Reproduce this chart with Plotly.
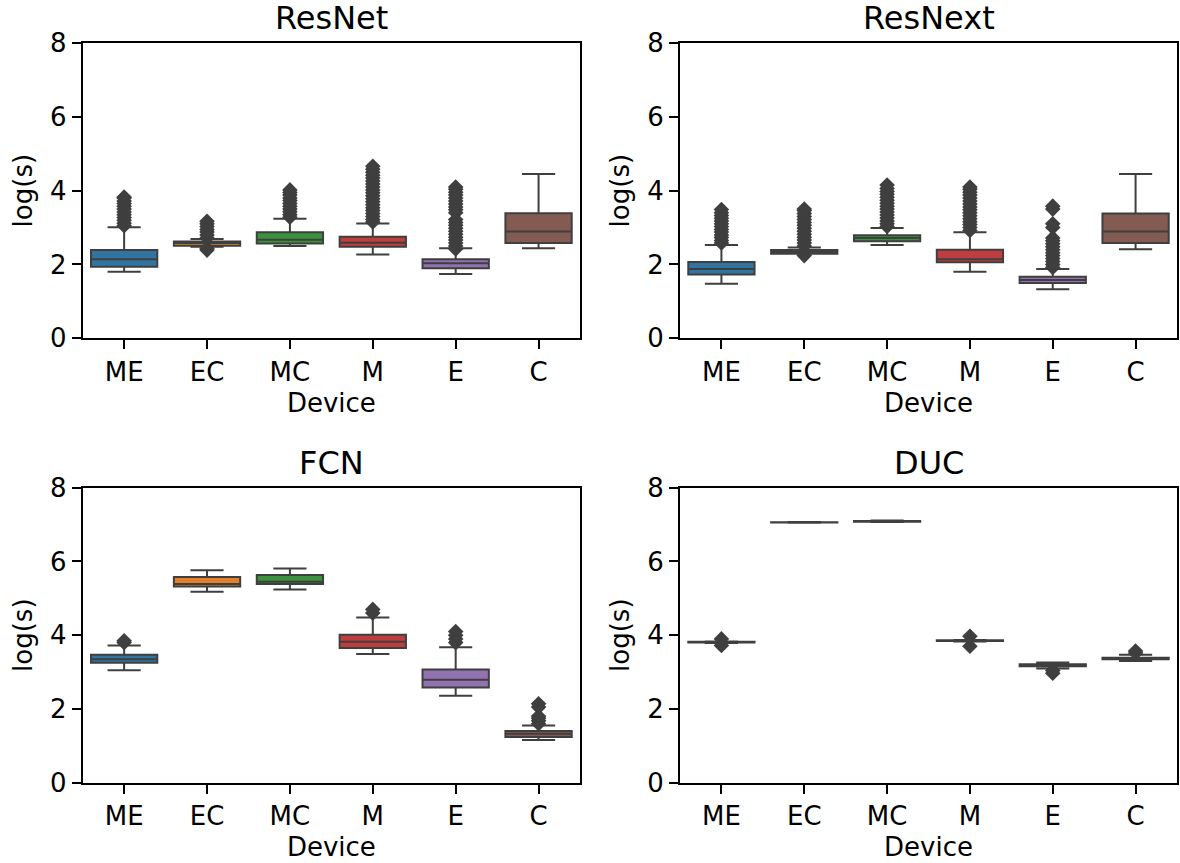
import plotly.graph_objects as go

# ---------------- data ----------------
devices = ["ME", "EC", "MC", "M", "E", "C"]
panel_titles = ["ResNet", "ResNext", "FCN", "DUC"]
y_ticks = [0, 2, 4, 6, 8]
colors = ["#3274a1", "#e1812c", "#3a923a", "#c03d3e", "#9372b2", "#845b53"]

# ResNet
resnet_low = [1.80, 2.48, 2.50, 2.27, 1.74, 2.44]
resnet_q1 = [1.94, 2.51, 2.57, 2.48, 1.90, 2.58]
resnet_med = [2.14, 2.58, 2.67, 2.59, 2.03, 2.89]
resnet_q3 = [2.39, 2.62, 2.87, 2.75, 2.14, 3.39]
resnet_high = [3.01, 2.69, 3.24, 3.11, 2.44, 4.45]
resnet_out = [
    [3.05, 3.12, 3.20, 3.27, 3.35, 3.42, 3.50, 3.58, 3.65, 3.72, 3.80, 3.83],
    [2.39, 2.43, 2.72, 2.80, 2.88, 2.95, 3.03, 3.10, 3.17],
    [3.28, 3.35, 3.43, 3.50, 3.58, 3.65, 3.73, 3.80, 3.88, 3.95, 4.02],
    [3.15, 3.22, 3.30, 3.38, 3.46, 3.54, 3.62, 3.70, 3.78, 3.86, 3.94, 4.02,
     4.10, 4.18, 4.26, 4.34, 4.42, 4.50, 4.58, 4.66],
    [2.42, 2.50, 2.58, 2.66, 2.74, 2.82, 2.90, 2.98, 3.06, 3.14, 3.22, 3.40,
     3.48, 3.56, 3.64, 3.72, 3.80, 3.88, 3.96, 4.04, 4.10],
    [],
]

# ResNext
resnext_low = [1.48, 2.29, 2.53, 1.80, 1.33, 2.41]
resnext_q1 = [1.73, 2.29, 2.63, 2.06, 1.50, 2.58]
resnext_med = [1.88, 2.34, 2.72, 2.14, 1.58, 2.89]
resnext_q3 = [2.07, 2.39, 2.79, 2.40, 1.67, 3.38]
resnext_high = [2.53, 2.46, 2.99, 2.87, 1.88, 4.45]
resnext_out = [
    [2.58, 2.65, 2.73, 2.80, 2.88, 2.95, 3.03, 3.10, 3.18, 3.25, 3.33, 3.40, 3.49],
    [2.24, 2.50, 2.58, 2.66, 2.74, 2.82, 2.90, 2.98, 3.06, 3.14, 3.22, 3.30,
     3.38, 3.46, 3.50],
    [3.03, 3.10, 3.18, 3.26, 3.34, 3.42, 3.50, 3.58, 3.66, 3.74, 3.82, 3.90,
     3.98, 4.06, 4.15],
    [2.92, 3.00, 3.08, 3.16, 3.24, 3.32, 3.40, 3.48, 3.56, 3.64, 3.72, 3.80,
     3.88, 3.96, 4.04, 4.10],
    [1.92, 2.00, 2.08, 2.16, 2.24, 2.32, 2.40, 2.48, 2.56, 2.64, 2.72, 3.00,
     3.10, 3.50, 3.58],
    [],
]

# FCN
fcn_low = [3.05, 5.18, 5.24, 3.49, 2.36, 1.16]
fcn_q1 = [3.25, 5.32, 5.39, 3.65, 2.58, 1.24]
fcn_med = [3.35, 5.39, 5.45, 3.82, 2.79, 1.33]
fcn_q3 = [3.47, 5.58, 5.63, 4.01, 3.07, 1.40]
fcn_high = [3.72, 5.76, 5.81, 4.48, 3.67, 1.55]
fcn_out = [
    [3.80, 3.85],
    [],
    [],
    [4.60, 4.70],
    [3.80, 3.90, 4.00, 4.10],
    [1.60, 1.68, 1.75, 1.80, 2.05, 2.14],
]

# DUC
duc_low = [3.79, 7.05, 7.07, 3.83, 3.10, 3.30]
duc_q1 = [3.80, 7.055, 7.08, 3.84, 3.16, 3.35]
duc_med = [3.81, 7.06, 7.09, 3.85, 3.18, 3.37]
duc_q3 = [3.82, 7.065, 7.10, 3.86, 3.21, 3.39]
duc_high = [3.83, 7.07, 7.11, 3.87, 3.26, 3.47]
duc_out = [
    [3.72, 3.90],
    [],
    [],
    [3.70, 3.97],
    [2.97, 3.04],
    [3.52, 3.57],
]

panels = [
    (resnet_low, resnet_q1, resnet_med, resnet_q3, resnet_high, resnet_out),
    (resnext_low, resnext_q1, resnext_med, resnext_q3, resnext_high, resnext_out),
    (fcn_low, fcn_q1, fcn_med, fcn_q3, fcn_high, fcn_out),
    (duc_low, duc_q1, duc_med, duc_q3, duc_high, duc_out),
]

# ---------------- layout geometry ----------------
W, H = 1180, 863


def px_x(v):
    return v / W


def px_y(v):
    return 1 - v / H


x_domains = [[px_x(82.7), px_x(580)], [px_x(680), px_x(1177)]]
y_domains = [[px_y(338.3), px_y(43)], [px_y(782.7), px_y(487.7)]]

FONT = "DejaVu Sans"
EDGE = "#3f3f3f"
TICK_SIZE = 26
TITLE_SIZE = 32

fig = go.Figure()

for p, (lo, q1, med, q3, hi, outs) in enumerate(panels):
    ax = "" if p == 0 else str(p + 1)
    for i, dev in enumerate(devices):
        fig.add_trace(go.Box(
            x=[i], q1=[q1[i]], median=[med[i]], q3=[q3[i]],
            lowerfence=[lo[i]], upperfence=[hi[i]],
            width=0.8, whiskerwidth=0.5,
            fillcolor=colors[i],
            line=dict(color=EDGE, width=2),
            boxpoints=False, showlegend=False, hoverinfo="skip",
            xaxis="x" + ax, yaxis="y" + ax,
        ))
        if outs[i]:
            fig.add_trace(go.Scatter(
                x=[i] * len(outs[i]), y=outs[i], mode="markers",
                marker=dict(symbol="diamond", size=12, color=EDGE,
                            line=dict(width=0)),
                showlegend=False, hoverinfo="skip",
                xaxis="x" + ax, yaxis="y" + ax,
            ))

layout = dict(
    width=W, height=H,
    margin=dict(l=0, r=0, t=0, b=0, autoexpand=False),
    paper_bgcolor="white", plot_bgcolor="white",
    font=dict(family=FONT, size=TICK_SIZE, color="black"),
    boxmode="overlay",
    annotations=[],
)

for p in range(4):
    col = p % 2
    row = p // 2
    ax = "" if p == 0 else str(p + 1)
    layout["xaxis" + ax] = dict(
        domain=x_domains[col], anchor="y" + ax, automargin=False,
        range=[-0.5, 5.5], tickvals=list(range(6)), ticktext=devices,
        showline=True, linecolor="black", linewidth=2, mirror=True,
        ticks="outside", ticklen=9, tickwidth=2, tickcolor="black",
        showgrid=False, zeroline=False,
        tickfont=dict(family=FONT, size=TICK_SIZE),
        title=dict(text="Device", font=dict(family=FONT, size=TICK_SIZE), standoff=8),
    )
    layout["yaxis" + ax] = dict(
        domain=y_domains[row], anchor="x" + ax, automargin=False,
        range=[0, 8], tickvals=y_ticks, ticktext=[str(v) for v in y_ticks],
        showline=True, linecolor="black", linewidth=2, mirror=True,
        ticks="outside", ticklen=9, tickwidth=2, tickcolor="black",
        showgrid=False, zeroline=False,
        tickfont=dict(family=FONT, size=TICK_SIZE),
        title=dict(text="log(s)", font=dict(family=FONT, size=TICK_SIZE), standoff=10),
    )
    layout["annotations"].append(dict(
        text=panel_titles[p], xref="paper", yref="paper",
        x=sum(x_domains[col]) / 2, y=y_domains[row][1],
        xanchor="center", yanchor="bottom", yshift=4, showarrow=False,
        font=dict(family=FONT, size=TITLE_SIZE, color="black"),
    ))

fig.update_layout(**layout)
# remove the browser's default 8px body margin so the figure fills the window
fig.write_html(
    "out.html",
    config={"displayModeBar": False, "staticPlot": True},
    post_script="document.body.style.margin='0';",
)
